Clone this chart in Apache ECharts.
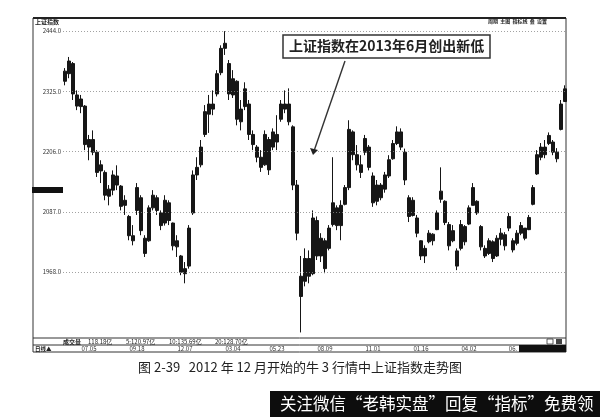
<!DOCTYPE html>
<html><head><meta charset="utf-8">
<script src="https://cdn.jsdelivr.net/npm/echarts/dist/echarts.min.js"></script>
<style>html,body{margin:0;padding:0;background:#fff}#c{width:600px;height:417px}</style>
</head><body><div id="c"></div>
<script>
// Candle values (Shanghai Composite, ~weekly steps)
const opens  = [2345,2360,2380,2318,2295,2296,2215,2230,2205,2168,2165,2118,2130,2158,2138,2100,2078,2040,2090,2115,2035,2030,2095,2115,2085,2065,2105,2065,2018,2000,1965,1980,2085,2160,2180,2240,2280,2300,2320,2362,2410,2380,2318,2345,2265,2295,2300,2240,2215,2195,2180,2230,2215,2240,2270,2300,2300,2255,2140,1960,1950,1995,1965,2070,2000,2030,2015,2062,2095,2060,2102,2135,2245,2200,2180,2205,2215,2158,2108,2140,2132,2158,2192,2222,2245,2205,2115,2080,2075,2030,2000,2028,2043,2052,2112,2108,2062,2030,2010,2015,2058,2063,2100,2108,2058,2015,2005,2028,2000,2033,2042,2055,2030,2025,2045,2055,2052,2102,2162,2195,2215,2222,2225,2205,2250,2305];
const closes = [2365,2385,2320,2296,2310,2220,2230,2205,2165,2180,2120,2132,2160,2140,2098,2110,2040,2030,2135,2050,2005,2095,2120,2090,2060,2110,2070,2020,2030,1968,1975,2055,2160,2175,2215,2285,2300,2290,2360,2410,2420,2320,2350,2270,2290,2330,2240,2220,2195,2175,2240,2170,2245,2225,2300,2290,2265,2140,2045,1920,1995,1960,2075,2000,2035,1975,2055,2105,2060,2100,2135,2250,2200,2180,2165,2232,2175,2105,2140,2115,2160,2190,2222,2245,2215,2150,2078,2110,2045,2000,2015,2045,2030,2085,2128,2066,2020,2050,1980,2062,2028,2095,2135,2085,2018,2000,2030,1995,2035,2045,2020,2078,2012,2045,2060,2035,2076,2135,2200,2215,2200,2238,2205,2192,2300,2330];
const lows   = [2337,2351,2308,2288,2282,2209,2189,2199,2156,2144,2110,2100,2120,2130,2090,2081,2031,2021,2081,2041,1998,2028,2090,2081,2051,2060,2061,2011,1998,1962,1946,1975,2081,2150,2175,2235,2243,2278,2315,2357,2397,2308,2312,2258,2248,2288,2229,2209,2185,2166,2178,2160,2209,2209,2265,2282,2258,2130,2031,1849,1940,1946,1962,1992,1988,1966,2011,2058,2051,2031,2100,2130,2189,2169,2154,2199,2169,2097,2100,2110,2125,2154,2190,2219,2209,2140,2067,2078,2037,1992,1986,2025,2021,2051,2105,2061,2011,2027,1972,2011,2021,2061,2100,2081,2011,1996,2002,1988,1998,2021,2011,2049,2007,2021,2041,2031,2051,2100,2160,2189,2193,2219,2199,2185,2248,2305];
const highs  = [2371,2393,2383,2327,2318,2298,2239,2248,2209,2189,2169,2140,2169,2179,2140,2120,2081,2061,2144,2120,2041,2100,2130,2120,2090,2120,2110,2066,2041,2002,1988,2061,2169,2195,2229,2298,2318,2327,2367,2416,2444,2387,2367,2347,2308,2343,2308,2248,2219,2209,2248,2235,2252,2278,2308,2327,2331,2258,2150,2000,2015,2011,2090,2078,2045,2035,2061,2195,2100,2110,2140,2268,2248,2219,2199,2239,2219,2165,2150,2144,2166,2199,2229,2256,2252,2212,2120,2116,2081,2031,2021,2051,2045,2090,2175,2110,2067,2061,2015,2071,2061,2100,2144,2110,2061,2021,2035,2031,2041,2055,2047,2085,2035,2051,2067,2055,2081,2140,2209,2223,2229,2244,2229,2213,2308,2337];
// Axis text
const yTicks = [2444, 2325, 2206, 2087, 1968];
const dateLabels = ['07.05','09.18','12.07','03.04','05.23','08.09','11.01','01.16','04.02','06.'];
const dateIndex  = [6,18,30,42,53,65,77,89,101,112];
const volumeText = ['成交量','118.18亿','5:120.97亿','10:135.69亿','20:128.70亿'];
const volumeX = [63,88,126,169,215];

const categories = opens.map(() => '');
dateIndex.forEach((k, i) => { categories[k] = dateLabels[i]; });
const candles = opens.map((o, i) => [o, closes[i], lows[i], highs[i]]);

const F = '"Noto Sans CJK SC","DejaVu Sans",sans-serif';
const chart = echarts.init(document.getElementById('c'), null, {renderer: 'canvas'});
const g = [];
// frame
g.push({type:'rect', shape:{x:33,y:18,width:533,height:334}, style:{fill:'none',stroke:'#333',lineWidth:1}, z:1});
g.push({type:'line', shape:{x1:33,y1:18,x2:566,y2:18}, style:{stroke:'#222',lineWidth:2}, z:1});
g.push({type:'line', shape:{x1:33,y1:338,x2:566,y2:338}, style:{stroke:'#333',lineWidth:1}, z:1});
g.push({type:'line', shape:{x1:33,y1:345,x2:566,y2:345}, style:{stroke:'#333',lineWidth:1}, z:1});
g.push({type:'rect', shape:{x:519,y:345,width:47,height:7}, style:{fill:'#111'}, z:1});
g.push({type:'rect', shape:{x:32,y:187,width:31,height:6}, style:{fill:'#111'}, z:1});
g.push({type:'rect', shape:{x:547,y:339,width:6,height:5}, style:{fill:'none',stroke:'#333',lineWidth:0.8}, z:1});
g.push({type:'rect', shape:{x:556,y:339,width:6,height:5}, style:{fill:'#444'}, z:1});
g.push({type:'text', left:35, top:19, style:{text:'上证指数', font:'bold 6px '+F, fill:'#222'}, z:2});
g.push({type:'text', left:488, top:19, style:{text:'周期  主图  指标线  叠  设置', font:'bold 5px '+F, fill:'#222'}, z:2});
g.push({type:'text', left:35, top:346, style:{text:'日线▲', font:'bold 5.5px '+F, fill:'#222'}, z:2});
volumeText.forEach((t, i) => g.push({type:'text', left:volumeX[i], top:339, style:{text:t, font:(i===0?'bold ':'')+'6px '+F, fill:'#222'}, z:2}));
// annotation
g.push({type:'rect', shape:{x:283,y:35,width:207,height:23}, style:{fill:'#fff',stroke:'#333',lineWidth:1.5}, z:10});
g.push({type:'text', left:289, top:38.5, style:{text:'上证指数在2013年6月创出新低', font:'bold 14px '+F, fill:'#222'}, z:11});
g.push({type:'line', shape:{x1:345,y1:61,x2:314,y2:151}, style:{stroke:'#333',lineWidth:1.4}, z:10});
g.push({type:'polygon', shape:{points:[[310,148],[318,150],[313,155]]}, style:{fill:'#222'}, z:10});
// caption + watermark
g.push({type:'text', left:'center', top:361, style:{text:'图 2-39   2012 年 12 月开始的牛 3 行情中上证指数走势图', font:'13px '+F, fill:'#222'}, z:2});
g.push({type:'rect', shape:{x:270,y:391,width:330,height:26}, style:{fill:'#0d0d0d'}, z:2});
g.push({type:'text', left:280, top:395, style:{text:'关注微信“老韩实盘”回复“指标”免费领', font:'16.5px '+F, fill:'#fff'}, z:3});

chart.setOption({
  animation:false,
  backgroundColor:'#fff',
  grid:{left:63, right:33, top:20, bottom:79},
  xAxis:{type:'category', data:categories, boundaryGap:true,
    axisLine:{show:false}, axisTick:{show:false}, splitLine:{show:false},
    axisLabel:{interval:0, margin:8, fontSize:6, color:'#333', fontFamily:F}},
  yAxis:{type:'value', min:1838, max:2466, axisLine:{show:false}, axisTick:{show:false},
    axisLabel:{show:false}, splitLine:{show:false}},
  series:[{type:'candlestick', data:candles, barWidth:3.3,
    itemStyle:{color:'#161616', color0:'#161616', borderColor:'#161616', borderColor0:'#161616', borderWidth:1},
    markLine:{symbol:'none', silent:true, animation:false,
      lineStyle:{type:[1,2], color:'#8a8a8a', width:0.8},
      label:{position:'start', distance:2, formatter:p => p.value.toFixed(1), fontSize:6, color:'#333', fontFamily:F},
      data:yTicks.map(v => ({yAxis:v}))}
  }],
  graphic:g
});
</script></body></html>
